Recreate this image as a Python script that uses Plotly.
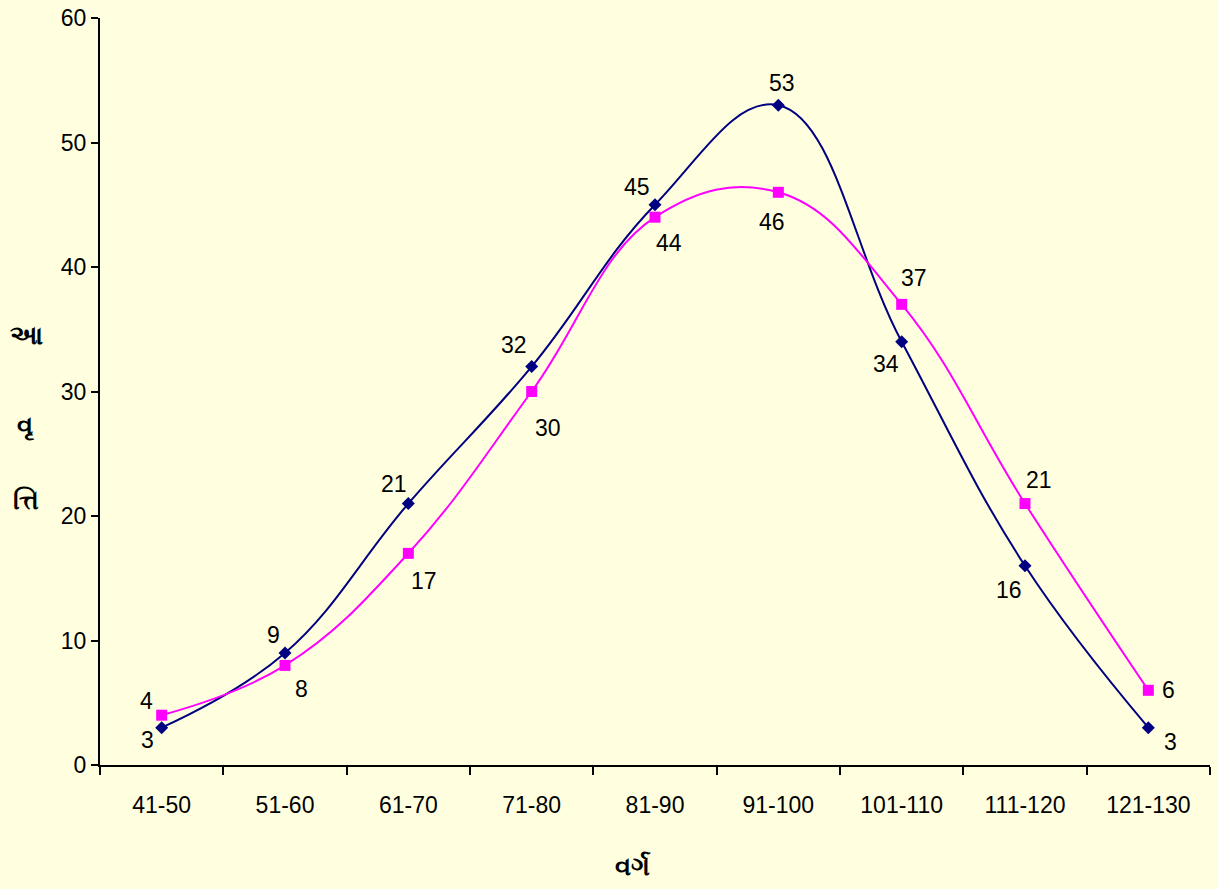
import plotly.graph_objects as go

categories = ["41-50", "51-60", "61-70", "71-80", "81-90", "91-100", "101-110", "111-120", "121-130"]
series_blue = [3, 9, 21, 32, 45, 53, 34, 16, 3]
series_pink = [4, 8, 17, 30, 44, 46, 37, 21, 6]

# label offsets in pixels (dx, dy) relative to each point; dy positive = up
blue_offsets = [(-14, -12), (-12, 18), (-14, 20), (-18, 22), (-18, 18), (4, 22), (-16, -22), (-16, -24), (22, -14)]
pink_offsets = [(-15, 14), (16, -24), (16, -28), (16, -36), (14, -26), (-6, -30), (12, 26), (14, 24), (20, 0)]

BG = "#FFFFE0"
font_family = "Liberation Sans, Arial, sans-serif"

# plot area in pixels
L, R, T, B = 100, 1210, 18, 765
W, H = 1218, 889


def px2paper(px, py):
    return (px - L) / (R - L), (B - py) / (B - T)


fig = go.Figure()
fig.add_trace(go.Scatter(
    x=categories, y=series_blue, mode="lines+markers",
    line=dict(color="#000080", width=2, shape="spline", smoothing=1.15),
    marker=dict(symbol="diamond", size=10, color="#000080"),
    showlegend=False, cliponaxis=False,
))
fig.add_trace(go.Scatter(
    x=categories, y=series_pink, mode="lines+markers",
    line=dict(color="#FF00FF", width=2, shape="spline", smoothing=1.15),
    marker=dict(symbol="square", size=11, color="#FF00FF"),
    showlegend=False, cliponaxis=False,
))

annotations = []
for cat, v, (dx, dy) in zip(categories, series_blue, blue_offsets):
    annotations.append(dict(x=cat, y=v, xref="x", yref="y", text=str(v), showarrow=False,
                            xshift=dx, yshift=dy, font=dict(size=23, color="black", family=font_family)))
for cat, v, (dx, dy) in zip(categories, series_pink, pink_offsets):
    annotations.append(dict(x=cat, y=v, xref="x", yref="y", text=str(v), showarrow=False,
                            xshift=dx, yshift=dy, font=dict(size=23, color="black", family=font_family)))

# axis titles (Gujarati)
ytitle_parts = ["આ", "વૃ", "ત્તિ"]
ytitle_y = [335, 425, 500]
for part, py in zip(ytitle_parts, ytitle_y):
    ax, ay = px2paper(26, py)
    annotations.append(dict(x=ax, y=ay, xref="paper", yref="paper", text="<b>" + part + "</b>",
                            showarrow=False, font=dict(size=26, color="black"),
                            xanchor="center", yanchor="middle"))
ax, ay = px2paper(633, 866)
annotations.append(dict(x=ax, y=ay, xref="paper", yref="paper", text="<b>વર્ગ</b>",
                        showarrow=False, font=dict(size=26, color="black"),
                        xanchor="center", yanchor="middle"))

fig.update_layout(
    width=W, height=H,
    paper_bgcolor=BG, plot_bgcolor=BG,
    margin=dict(l=L, r=W - R, t=T, b=H - B, autoexpand=False),
    font=dict(family=font_family, size=23, color="black"),
    annotations=annotations,
    xaxis=dict(
        type="category", range=[-0.5, 8.5], tickson="boundaries",
        showline=True, linecolor="black", linewidth=2,
        ticks="outside", ticklen=8, tickwidth=2, tickcolor="black",
        showgrid=False, zeroline=False, mirror=False,
        tickfont=dict(size=23, family=font_family),
        ticklabelstandoff=18,
    ),
    yaxis=dict(
        range=[0, 60], dtick=10, tick0=0,
        showline=True, linecolor="black", linewidth=2,
        ticks="outside", ticklen=7, tickwidth=2, tickcolor="black",
        showgrid=False, zeroline=False,
        tickfont=dict(size=23, family=font_family),
    ),
)

fig.write_html("out.html", config={"displayModeBar": False},
               post_script="document.body.style.margin='0';document.body.style.background='" + BG + "';")
